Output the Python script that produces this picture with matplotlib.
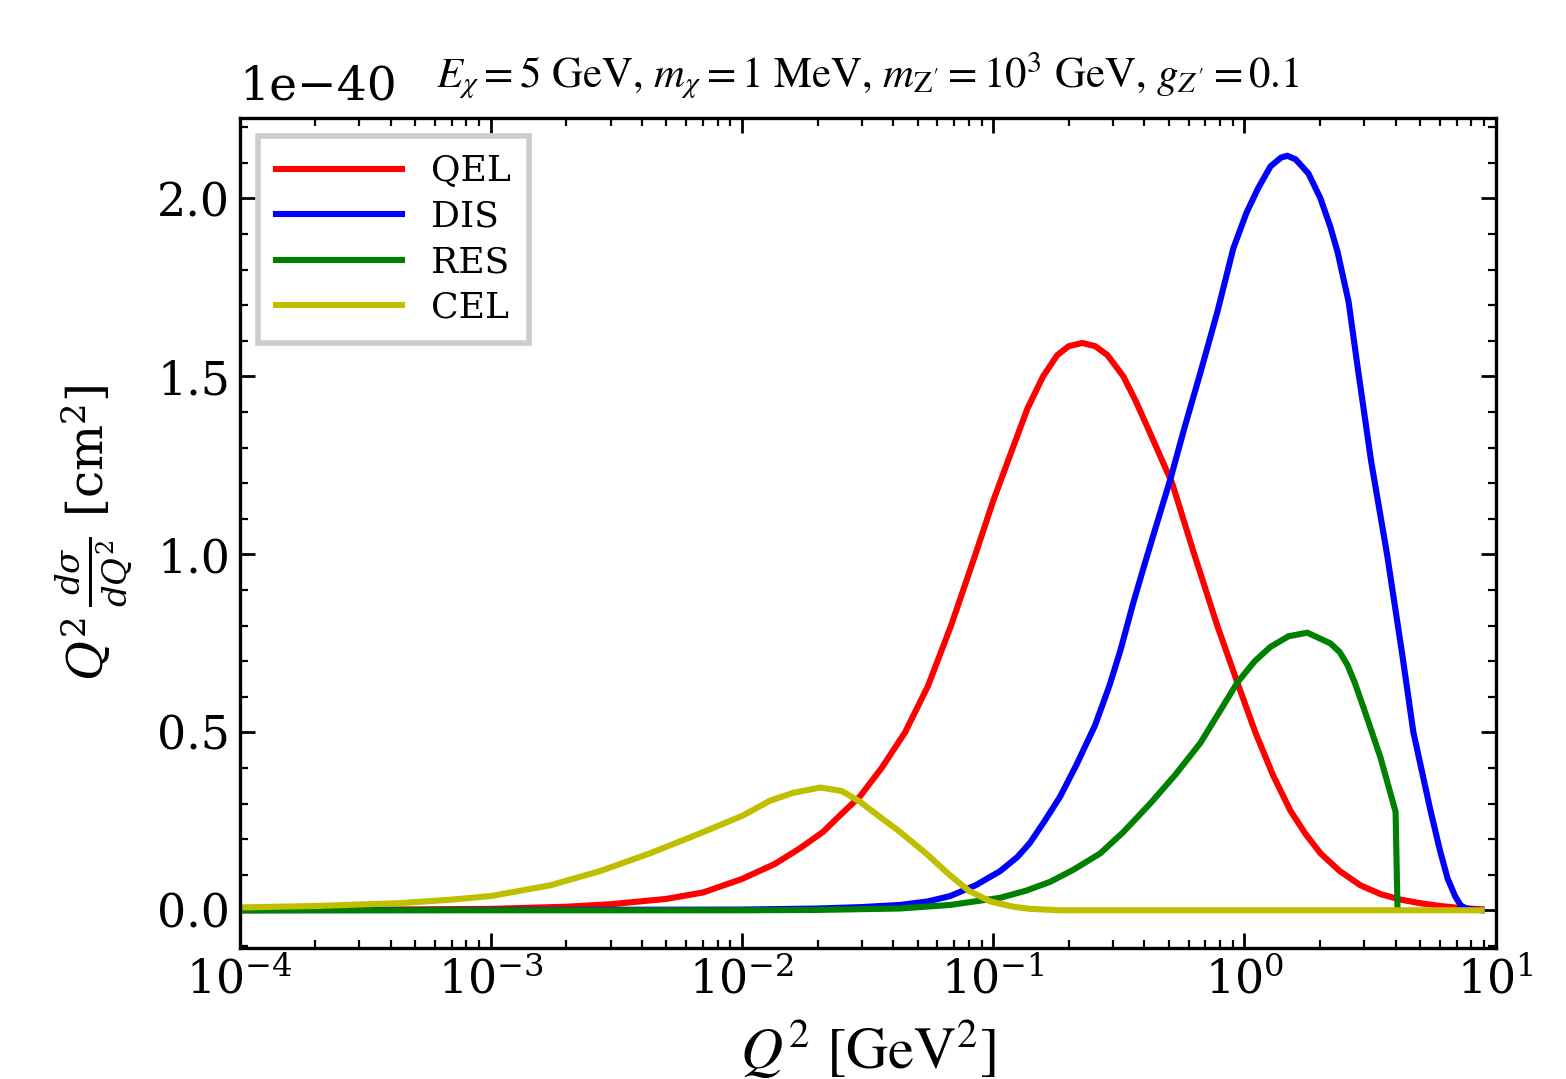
import matplotlib
matplotlib.use("Agg")
import matplotlib.pyplot as plt
from matplotlib.ticker import AutoMinorLocator, LogLocator, NullFormatter
import numpy as np

plt.rcParams['font.family'] = 'serif'
plt.rcParams['font.serif'] = ['DejaVu Serif']
plt.rcParams['mathtext.fontset'] = 'dejavuserif'

# Q^2 [GeV^2] and Q^2 dsigma/dQ^2 in units of 1e-40 cm^2
q2_qel = [1e-4, 3e-4, 1e-3, 2e-3, 3e-3, 5e-3, 7e-3, 0.01, 0.0135, 0.017, 0.021,
          0.0245, 0.0295, 0.036, 0.0446, 0.055, 0.068, 0.085, 0.10, 0.117, 0.137,
          0.158, 0.18, 0.20, 0.2265, 0.255, 0.285, 0.33, 0.37, 0.422, 0.516, 0.632,
          0.78, 0.938, 1.106, 1.3, 1.525, 1.75, 2.01, 2.4, 2.9, 3.5, 4.19, 5.0,
          6.04, 7.3, 8.8]
qel = [0.0005, 0.0015, 0.004, 0.01, 0.017, 0.032, 0.05, 0.088, 0.13, 0.174, 0.22,
       0.266, 0.32, 0.40, 0.50, 0.63, 0.80, 1.0, 1.15, 1.28, 1.41,
       1.50, 1.56, 1.585, 1.594, 1.585, 1.56, 1.50, 1.43, 1.34, 1.20, 1.0,
       0.80, 0.64, 0.50, 0.38, 0.28, 0.215, 0.16, 0.11, 0.07, 0.045, 0.03, 0.02,
       0.012, 0.006, 0.003]

q2_dis = [1e-4, 0.01, 0.02, 0.03, 0.0426, 0.055, 0.0674, 0.085, 0.1066, 0.125,
          0.1403, 0.16, 0.185, 0.215, 0.2546, 0.29, 0.321, 0.36, 0.396, 0.45,
          0.507, 0.58, 0.668, 0.78, 0.904, 1.02, 1.137, 1.27, 1.40, 1.483, 1.60,
          1.80, 2.01, 2.2, 2.35, 2.6, 2.82, 3.2, 3.7, 4.25, 4.71, 5.51, 6.0,
          6.44, 6.9, 7.26, 7.6, 7.95, 8.8]
dis = [0.0, 0.002, 0.005, 0.009, 0.015, 0.025, 0.04, 0.07, 0.11, 0.15,
       0.19, 0.25, 0.32, 0.41, 0.52, 0.63, 0.73, 0.86, 0.96, 1.09,
       1.21, 1.36, 1.51, 1.68, 1.86, 1.96, 2.03, 2.09, 2.115, 2.12, 2.11,
       2.07, 2.0, 1.92, 1.85, 1.71, 1.53, 1.26, 1.0, 0.72, 0.50, 0.28, 0.17,
       0.09, 0.04, 0.014, 0.006, 0.003, 0.0]

q2_res = [1e-4, 0.01, 0.02, 0.0426, 0.0674, 0.1066, 0.135, 0.1687, 0.21, 0.267,
          0.33, 0.422, 0.53, 0.668, 0.80, 0.938, 1.1, 1.27, 1.5, 1.782, 2.2,
          2.4, 2.57, 2.75, 2.98, 3.48, 4.00, 4.07]
res = [0.0, 0.0, 0.001, 0.005, 0.015, 0.035, 0.055, 0.08, 0.115, 0.16,
       0.22, 0.30, 0.38, 0.47, 0.56, 0.64, 0.70, 0.74, 0.77, 0.78, 0.75,
       0.725, 0.69, 0.64, 0.57, 0.43, 0.277, 0.01]

q2_cel = [1e-4, 2e-4, 4.33e-4, 7e-4, 1e-3, 1.72e-3, 2.72e-3, 4.30e-3, 6.8e-3, 0.01,
          0.01294, 0.016, 0.0205, 0.025, 0.0295, 0.035, 0.0426, 0.054, 0.0674,
          0.08, 0.0973, 0.12, 0.1403, 0.185, 8.8]
cel = [0.008, 0.012, 0.02, 0.03, 0.04, 0.07, 0.11, 0.16, 0.216, 0.265,
       0.308, 0.33, 0.345, 0.335, 0.305, 0.265, 0.22, 0.16, 0.098,
       0.055, 0.025, 0.01, 0.004, 0.0, 0.0]

fig, ax = plt.subplots(figsize=(7.83, 5.395), dpi=200)
fig.subplots_adjust(left=0.153, right=0.955, top=0.8906, bottom=0.1214)

lw = 2.2
ax.plot(q2_qel, np.array(qel) * 1e-40, color='r', lw=lw, label='QEL')
ax.plot(q2_dis, np.array(dis) * 1e-40, color='b', lw=lw, label='DIS')
ax.plot(q2_res, np.array(res) * 1e-40, color='g', lw=lw, label='RES')
ax.plot(q2_cel, np.array(cel) * 1e-40, color='y', lw=lw, label='CEL')

ax.set_xscale('log')
ax.set_xlim(1e-4, 1e1)
ax.xaxis.set_major_locator(LogLocator(base=10, numticks=10))
ax.xaxis.set_minor_locator(LogLocator(base=10, subs=np.arange(2, 10), numticks=100))
ax.xaxis.set_minor_formatter(NullFormatter())
ax.yaxis.set_minor_locator(AutoMinorLocator(5))

ax.tick_params(which='both', direction='in', top=True, right=True, labelsize=16.5)
ax.tick_params(which='major', length=5.5, width=1.0)
ax.tick_params(which='minor', length=3, width=0.8)
for sp in ax.spines.values():
    sp.set_linewidth(1.2)
ax.yaxis.get_offset_text().set_fontsize(17)
ax.yaxis.OFFSETTEXTPAD = 6.5

ax.set_xlabel(r'$Q^2$ [GeV$^2$]', fontsize=21, family='STIXGeneral',
              math_fontfamily='stix', labelpad=6)
ax.set_ylabel(r'$Q^2\,\frac{d\sigma}{dQ^2}$ [cm$^2$]', fontsize=17.5, labelpad=8)
ax.set_title(r'$E_\chi = 5$ GeV, $m_\chi = 1$ MeV, $m_{\mathrm{Z}^\prime} = 10^3$ GeV, $g_{Z^\prime} = 0.1$',
             fontsize=15.4, family='STIXGeneral', math_fontfamily='stix', pad=11)

leg = ax.legend(loc='upper left', fontsize=13, handlelength=3.5, labelspacing=0.32,
                borderpad=0.5, fancybox=False, framealpha=1, edgecolor='#cccccc')
leg.get_frame().set_linewidth(2)

plt.savefig('out.png', dpi=200)
